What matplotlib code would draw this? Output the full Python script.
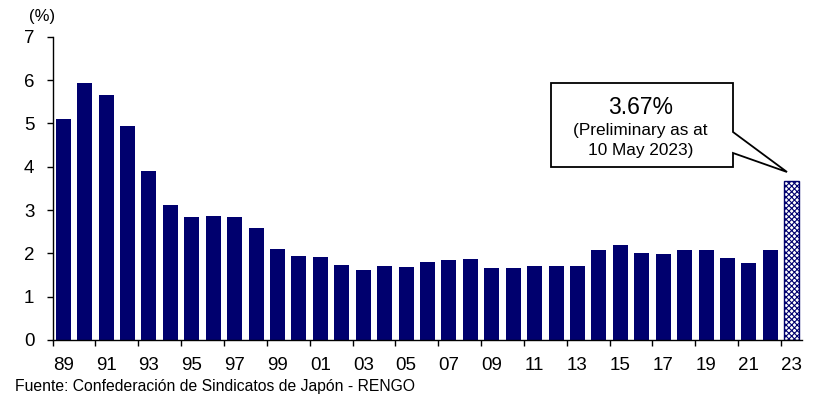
import numpy as np
import matplotlib.pyplot as plt
from matplotlib.patches import Polygon

plt.rcParams['font.family'] = ['Liberation Sans', 'DejaVu Sans']

# Datos: subida salarial (shunto), 1989-2023
years = list(range(1989, 2024))
wage_rise = [5.10, 5.94, 5.65, 4.95, 3.89, 3.11, 2.83, 2.86, 2.83, 2.59,
             2.10, 1.94, 1.92, 1.72, 1.62, 1.70, 1.68, 1.79, 1.85, 1.87,
             1.67, 1.67, 1.71, 1.71, 1.71, 2.07, 2.20, 2.00, 1.98, 2.07,
             2.07, 1.90, 1.78, 2.07, 3.67]
tick_labels = ["%02d" % (y % 100) for y in years]

navy = '#00006e'
W, H = 818, 397

fig = plt.figure(figsize=(W / 100, H / 100), dpi=100)
ax = fig.add_axes([52.5 / W, 57 / H, 750 / W, 303.3 / H])

x = np.arange(len(years))
n = len(years)

# barras normales
ax.bar(x[:-1], wage_rise[:-1], width=0.7, color=navy)
# ultima barra (preliminar) con trama
plt.rcParams['hatch.color'] = '#2a2aa0'
plt.rcParams['hatch.linewidth'] = 0.8
ax.bar(x[-1], wage_rise[-1], width=0.7, facecolor='white',
       edgecolor=navy, hatch='xxxxxx', linewidth=1.0)

ax.set_xlim(-0.5, n - 0.5)
ax.set_ylim(0, 7)
ax.set_yticks(range(0, 8))
ax.tick_params(axis='y', direction='out', length=4, width=1, labelsize=13.5, pad=9)

ax.set_xticks(x[::2])
ax.set_xticklabels(tick_labels[::2])
ax.tick_params(axis='x', which='major', length=0, labelsize=13.5, pad=12.5)
ax.set_xticks(np.arange(-0.5, n - 0.5, 2), minor=True)
ax.tick_params(axis='x', which='minor', direction='out', length=4, width=1)

for s in ['top', 'right']:
    ax.spines[s].set_visible(False)
ax.spines['left'].set_linewidth(1)
ax.spines['bottom'].set_linewidth(1)

fig.text(42 / W, 1 - 17 / H, '(%)', fontsize=12, ha='center', va='center')
fig.text(15 / W, 1 - 386 / H, 'Fuente: Confederación de Sindicatos de Japón - RENGO',
         fontsize=11.3, ha='left', va='center')

# globo de texto
def px(xp, yp):
    return (xp / W, 1 - yp / H)

pts = [px(551, 83), px(733, 83), px(733, 132), px(787, 172),
       px(733, 153), px(733, 167), px(551, 167)]
fig.patches.append(Polygon(pts, closed=True, transform=fig.transFigure,
                           facecolor='white', edgecolor='black', linewidth=1.3))
fig.text(641 / W, 1 - 107 / H, '%.2f%%' % wage_rise[-1], fontsize=16.5,
         ha='center', va='center')
fig.text(640 / W, 1 - 131 / H, '(Preliminary as at', fontsize=12.4,
         ha='center', va='center')
fig.text(641 / W, 1 - 150 / H, '10 May 2023)', fontsize=12.4,
         ha='center', va='center')

fig.savefig('out.png', dpi=100)
